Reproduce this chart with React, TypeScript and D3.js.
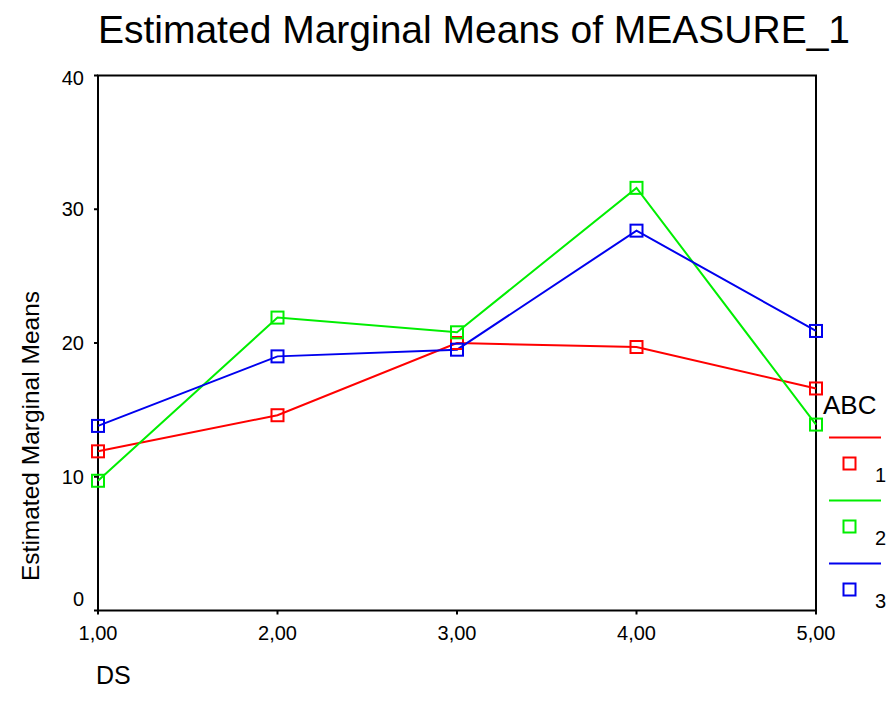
import { useEffect, useRef } from "react";
import * as d3 from "d3";

const categories = [1, 2, 3, 4, 5];
const xTickLabels = ["1,00", "2,00", "3,00", "4,00", "5,00"];
const yTicks = [0, 10, 20, 30, 40];
const seriesNames = ["1", "2", "3"];
const seriesColors = ["#ff0000", "#00ee00", "#0000ee"];
const series1 = [11.9, 14.6, 20.0, 19.7, 16.6];
const series2 = [9.7, 21.9, 20.8, 31.6, 13.9];
const series3 = [13.8, 19.0, 19.5, 28.4, 20.9];

export default function App() {
  const ref = useRef<SVGSVGElement>(null);

  useEffect(() => {
    if (!ref.current) return;
    const svg = d3.select(ref.current);
    svg.selectAll("*").remove();

    const font = "'Liberation Sans', Arial, sans-serif";
    const x = d3.scaleLinear().domain([1, 5]).range([98, 816]);
    const y = d3.scaleLinear().domain([0, 40]).range([610.5, 75.5]);

    // title
    svg.append("text")
      .attr("x", 474).attr("y", 43)
      .attr("text-anchor", "middle")
      .style("font-family", font).style("font-size", "39px")
      .text("Estimated Marginal Means of MEASURE_1");

    // frame
    const g = svg.append("g");
    g.append("rect")
      .attr("x", x(1)).attr("y", y(40))
      .attr("width", x(5) - x(1)).attr("height", y(0) - y(40))
      .attr("fill", "none").attr("stroke", "#000").attr("stroke-width", 2);

    // y ticks
    yTicks.forEach((t) => {
      g.append("line")
        .attr("x1", x(1) - 4).attr("x2", x(1))
        .attr("y1", y(t)).attr("y2", y(t))
        .attr("stroke", "#000").attr("stroke-width", 2);
      let ly = y(t) + 7;
      if (t === 0) ly = y(t) - 4.5;
      if (t === 40) ly = y(t) + 9.5;
      g.append("text")
        .attr("x", x(1) - 14).attr("y", ly)
        .attr("text-anchor", "end")
        .style("font-family", font).style("font-size", "20px")
        .text(String(t));
    });

    // x ticks
    categories.forEach((c, i) => {
      g.append("line")
        .attr("x1", x(c)).attr("x2", x(c))
        .attr("y1", y(0)).attr("y2", y(0) + 4)
        .attr("stroke", "#000").attr("stroke-width", 2);
      g.append("text")
        .attr("x", x(c)).attr("y", 640)
        .attr("text-anchor", "middle")
        .style("font-family", font).style("font-size", "20px")
        .text(xTickLabels[i]);
    });

    // axis titles
    svg.append("text")
      .attr("transform", `translate(39,436) rotate(-90)`)
      .attr("text-anchor", "middle")
      .style("font-family", font).style("font-size", "24.5px")
      .text("Estimated Marginal Means");
    svg.append("text")
      .attr("x", 96).attr("y", 684)
      .style("font-family", font).style("font-size", "25px")
      .text("DS");

    // lines
    const allSeries = [series1, series2, series3];
    const line = d3.line<number>()
      .x((_, i) => x(categories[i]))
      .y((d) => y(d));
    allSeries.forEach((s, si) => {
      g.append("path")
        .attr("d", line(s))
        .attr("fill", "none")
        .attr("stroke", seriesColors[si])
        .attr("stroke-width", 2);
    });
    allSeries.forEach((s, si) => {
      s.forEach((v, i) => {
        g.append("rect")
          .attr("x", x(categories[i]) - 6).attr("y", y(v) - 6)
          .attr("width", 12).attr("height", 12)
          .attr("fill", "none")
          .attr("stroke", seriesColors[si])
          .attr("stroke-width", 2);
      });
    });

    // legend
    const lg = svg.append("g");
    lg.append("text")
      .attr("x", 823).attr("y", 414)
      .style("font-family", font).style("font-size", "26px")
      .text("ABC");
    seriesNames.forEach((name, i) => {
      const top = 437.5 + i * 63;
      lg.append("line")
        .attr("x1", 829).attr("x2", 881)
        .attr("y1", top).attr("y2", top)
        .attr("stroke", seriesColors[i]).attr("stroke-width", 2);
      lg.append("rect")
        .attr("x", 843.5).attr("y", top + 20)
        .attr("width", 12).attr("height", 12)
        .attr("fill", "none")
        .attr("stroke", seriesColors[i]).attr("stroke-width", 2);
      lg.append("text")
        .attr("x", 875).attr("y", top + 44)
        .style("font-family", font).style("font-size", "20px")
        .text(name);
    });
  }, []);

  return (
    <svg
      ref={ref}
      width={893}
      height={720}
      style={{ position: "absolute", top: 0, left: 0, background: "#fff" }}
    />
  );
}
